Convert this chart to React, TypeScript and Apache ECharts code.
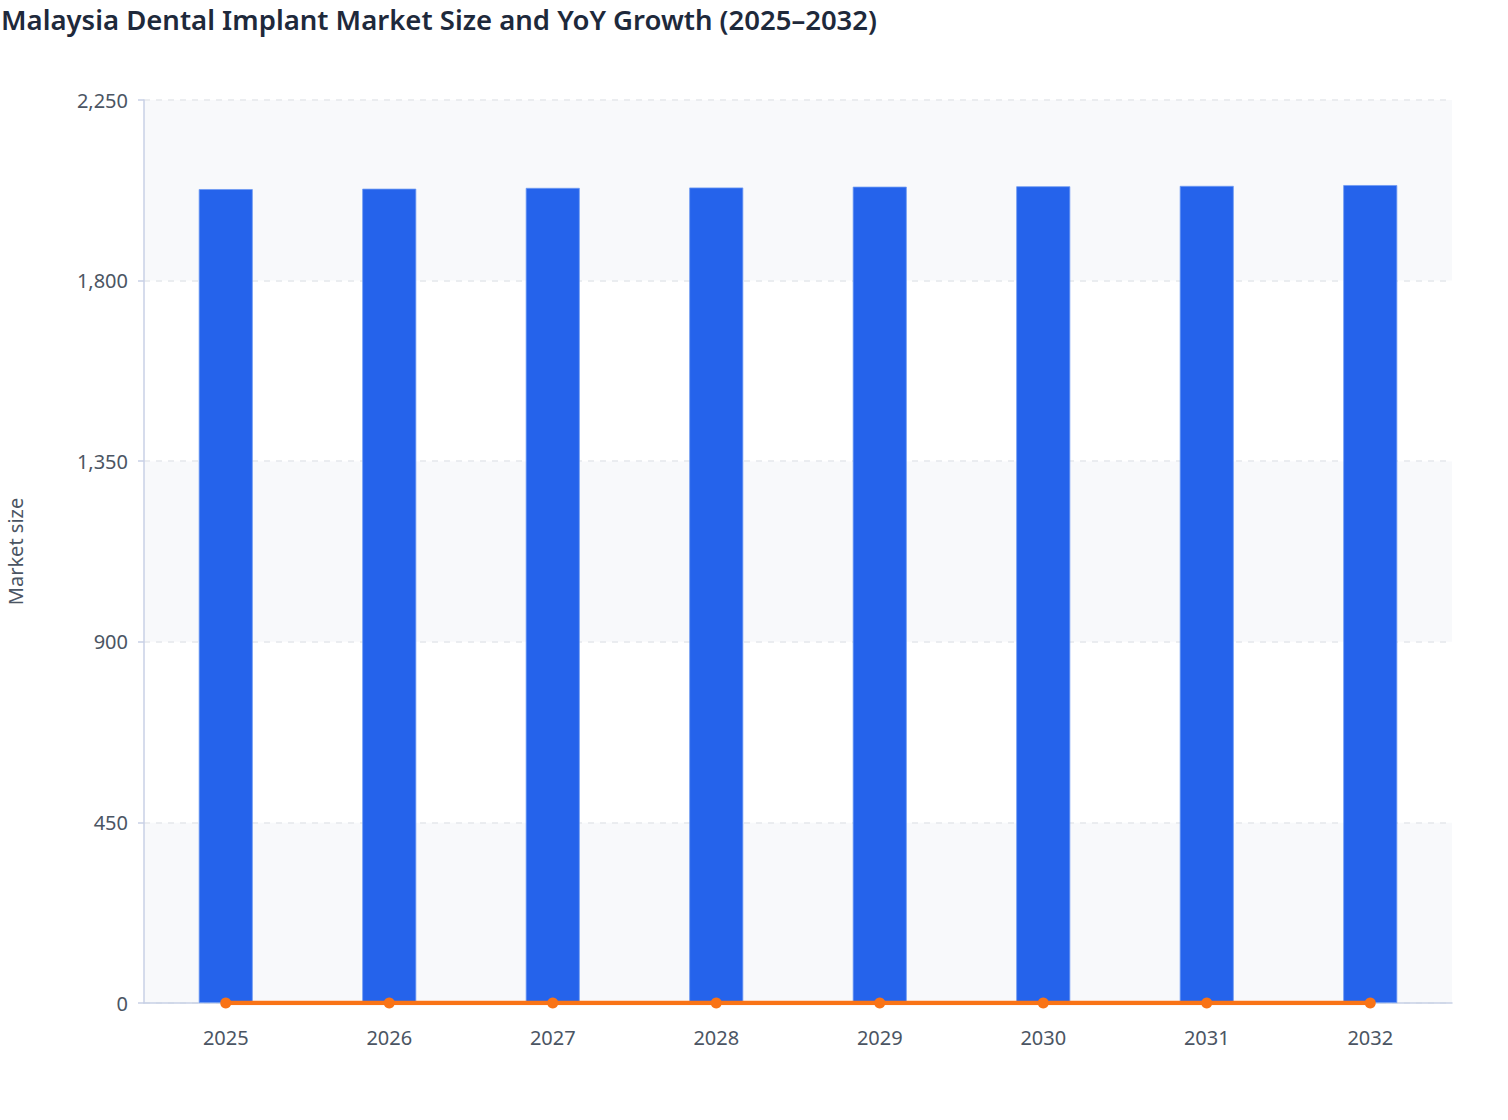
import { useEffect, useRef } from 'react';
import * as echarts from 'echarts';

const years = ['2025', '2026', '2027', '2028', '2029', '2030', '2031', '2032'];
const marketSize = [2028, 2029, 2031, 2032, 2034, 2035, 2036, 2038];
const yoyGrowth = [0, 0.07, 0.08, 0.07, 0.08, 0.07, 0.06, 0.08];

const FONT = '"Noto Sans", "Open Sans", sans-serif';

export default function App() {
  const chartRef = useRef<HTMLDivElement>(null);

  useEffect(() => {
    document.body.style.margin = '0';
    if (!chartRef.current) return;
    const chart = echarts.init(chartRef.current, null, { renderer: 'svg' });

    chart.setOption({
      animation: false,
      backgroundColor: '#ffffff',
      textStyle: { fontFamily: FONT },
      title: {
        text: 'Malaysia Dental Implant Market Size and YoY Growth (2025–2032)',
        left: -4,
        top: 0,
        textStyle: {
          fontFamily: FONT,
          fontSize: 27.5,
          fontWeight: 600,
          color: '#1e293b',
        },
      },
      grid: { left: 144, right: 56, top: 100, bottom: 117, outerBoundsMode: 'none' },
      xAxis: {
        type: 'category',
        data: years,
        axisLine: { lineStyle: { color: '#c8d1e6', width: 1.5 } },
        axisTick: { alignWithLabel: true, length: 6, lineStyle: { color: '#c8d1e6', width: 1.5 } },
        axisLabel: { color: '#4b5563', fontSize: 20, margin: 24 },
      },
      yAxis: {
        type: 'value',
        min: 0,
        max: 2250,
        interval: 450,
        name: 'Market size',
        nameLocation: 'middle',
        nameGap: 119,
        nameTextStyle: { color: '#4b5563', fontSize: 20 },
        axisLine: { show: true, lineStyle: { color: '#c8d1e6', width: 1.5 } },
        axisTick: { show: true, length: 6, lineStyle: { color: '#c8d1e6', width: 1.5 } },
        axisLabel: {
          color: '#4b5563',
          fontSize: 20,
          margin: 16,
          formatter: (v: number) => v.toLocaleString('en-US'),
        },
        splitLine: { lineStyle: { color: '#e5e7eb', type: [6, 6], width: 1.5 } },
        splitArea: { show: true, areaStyle: { color: ['#f8f9fb', '#ffffff'] } },
      },
      series: [
        {
          name: 'Market size',
          type: 'bar',
          data: marketSize,
          barWidth: 54,
          itemStyle: { color: '#2563eb', borderColor: '#6e9bf3', borderWidth: 0.8 },
        },
        {
          name: 'YoY growth',
          type: 'line',
          data: yoyGrowth,
          symbol: 'circle',
          symbolSize: 11,
          lineStyle: { color: '#f97316', width: 4.5 },
          itemStyle: { color: '#f97316' },
        },
      ],
    });

    return () => {
      chart.dispose();
    };
  }, []);

  return <div ref={chartRef} style={{ width: 1508, height: 1120 }} />;
}
